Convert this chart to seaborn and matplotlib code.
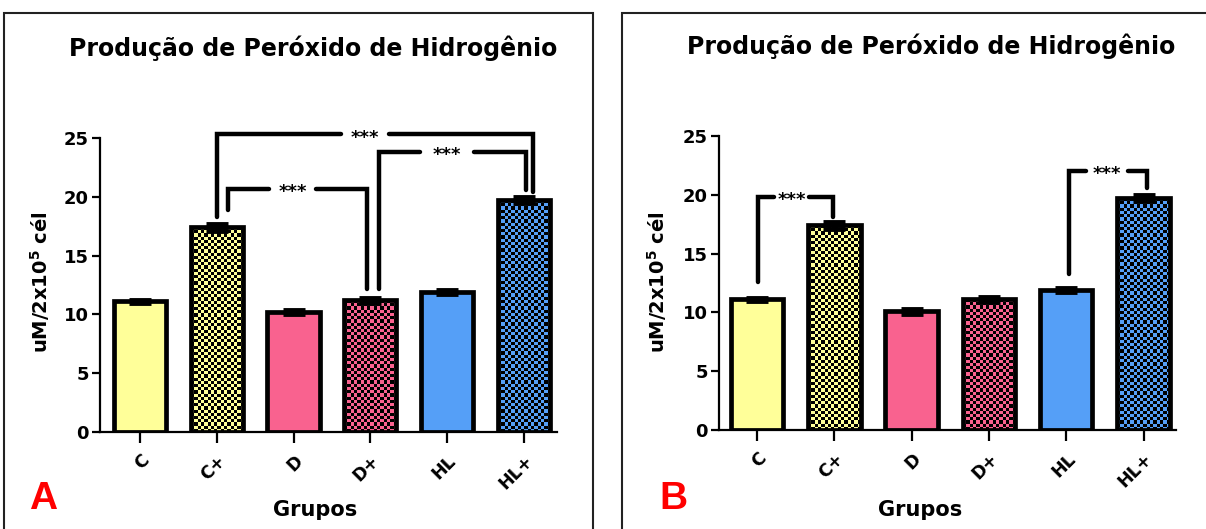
import numpy as np
import pandas as pd
import matplotlib
matplotlib.use("Agg")
import matplotlib.pyplot as plt
from matplotlib.patches import Rectangle
import seaborn as sns

# ---- data -------------------------------------------------------------
groups = ["C", "C+", "D", "D+", "HL", "HL+"]
h2o2_a = [11.1, 17.4, 10.2, 11.2, 11.9, 19.7]
sem_a = [0.15, 0.3, 0.2, 0.2, 0.2, 0.25]
h2o2_b = [11.1, 17.4, 10.1, 11.1, 11.9, 19.7]
sem_b = [0.15, 0.3, 0.2, 0.2, 0.2, 0.25]

bar_colors = ["#FFFF99", "#FFFF99", "#F9628F", "#F9628F", "#559FF7", "#559FF7"]
patterned = ["C+", "D+", "HL+"]

# significance brackets:
# (left x, right x, line y, left leg end, right leg end, label x, label gap width)
brackets_a = [
    (1.00, 5.12, 25.3, 18.3, 20.4, 2.93, 0.62),
    (1.15, 2.96, 20.7, 18.9, 12.2, 1.99, 0.61),
    (3.11, 5.03, 23.8, 12.2, 20.6, 4.00, 0.70),
]
brackets_b = [
    (0.01, 0.98, 19.8, 12.6, 18.1, 0.45, 0.46),
    (4.03, 5.05, 22.0, 13.3, 20.6, 4.53, 0.55),
]

sns.set_theme(style="white")
plt.rcParams["font.family"] = ["DejaVu Sans"]
plt.rcParams["font.weight"] = "bold"
plt.rcParams["text.color"] = "black"
plt.rcParams["axes.labelcolor"] = "black"
plt.rcParams["xtick.color"] = "black"
plt.rcParams["ytick.color"] = "black"
plt.rcParams["mathtext.fontset"] = "custom"
plt.rcParams["mathtext.bf"] = "DejaVu Sans:bold"
plt.rcParams["mathtext.rm"] = "DejaVu Sans:bold"

W, H = 1206, 529
fig = plt.figure(figsize=(W / 100, H / 100), dpi=100)


def fx(px):
    return px / W


def fy(py):
    return 1 - py / H


def checker_fill(ax, patch, color, cell_px=3.2):
    """Fill a bar with a fine black/colour checkerboard."""
    x0, y0 = patch.get_x(), patch.get_y()
    w, h = patch.get_width(), patch.get_height()
    (px0, py0), (px1, py1) = ax.transData.transform([(x0, y0), (x0 + w, y0 + h)])
    ncol = max(2, int(round(abs(px1 - px0) / cell_px)))
    nrow = max(2, int(round(abs(py1 - py0) / cell_px)))
    rgb = np.array(matplotlib.colors.to_rgb(color))
    ii, jj = np.indices((nrow, ncol))
    mask = ((ii + jj) % 2 == 0)[..., None]
    img = np.where(mask, rgb, np.zeros(3))
    ax.imshow(img, extent=[x0, x0 + w, y0, y0 + h], origin="lower",
              interpolation="nearest", aspect="auto",
              zorder=patch.get_zorder() - 0.05)
    patch.set_facecolor("none")


def draw_panel(ax, values, errs, brackets, xlim):
    df = pd.DataFrame({"grupo": groups, "valor": values})
    sns.barplot(data=df, x="grupo", y="valor", hue="grupo", palette=bar_colors,
                order=groups, hue_order=groups, dodge=False, legend=False,
                errorbar=None, width=0.68, edgecolor="black", linewidth=3.4,
                saturation=1, ax=ax, zorder=2)
    ax.set_xlim(*xlim)
    ax.set_ylim(0, 27)
    ax.errorbar(np.arange(len(groups)), values, yerr=errs, fmt="none",
                ecolor="black", elinewidth=3, capsize=8, capthick=3.5, zorder=3)

    for p in ax.patches:
        idx = int(round(p.get_x() + p.get_width() / 2))
        if groups[idx] in patterned:
            checker_fill(ax, p, bar_colors[idx])
    ax.set_xlim(*xlim)
    ax.set_ylim(0, 27)

    line_kw = dict(color="black", lw=3.2, solid_capstyle="round",
                   solid_joinstyle="miter", zorder=4)
    for (x1, x2, y, y1, y2, tx, gap) in brackets:
        ax.plot([x1, x1, tx - gap / 2], [y1, y, y], **line_kw)
        ax.plot([tx + gap / 2, x2, x2], [y, y, y2], **line_kw)
        # asterisks sit high above the baseline; shift them onto the line
        ax.annotate("***", xy=(tx, y), xytext=(0, -5.8),
                    textcoords="offset points", ha="center", va="baseline",
                    fontsize=13, fontweight="bold", zorder=5)

    sns.despine(ax=ax)
    ax.spines["left"].set_bounds(0, 25)
    for s in ("left", "bottom"):
        ax.spines[s].set_linewidth(1.6)
        ax.spines[s].set_color("black")
    ax.set_yticks([0, 5, 10, 15, 20, 25])
    ax.tick_params(axis="y", direction="out", length=6, width=1.6,
                   labelsize=13, left=True, pad=2)
    ax.tick_params(axis="x", direction="out", length=8, width=1.6,
                   labelsize=12.5, bottom=True, pad=6)
    ax.set_xticks(range(len(groups)))
    ax.set_xticklabels(groups, rotation=45, ha="right", va="top",
                       rotation_mode="anchor", fontweight="bold")
    for lab in ax.get_yticklabels():
        lab.set_fontweight("bold")
    ax.set_xlabel("")
    ax.set_ylabel("")
    ax.grid(False)


# panel frames
for (x0, x1) in [(4, 593), (622, 1212)]:
    fig.add_artist(Rectangle((fx(x0), -0.05), fx(x1 - x0), fy(13) + 0.05,
                             transform=fig.transFigure, fill=False,
                             edgecolor="#222222", linewidth=1.5))

ppu_y = 11.76
ax_a = fig.add_axes([fx(100), (H - 432) / H, fx(457), 27 * ppu_y / H])
draw_panel(ax_a, h2o2_a, sem_a, brackets_a, (-0.52, 5.43))

ax_b = fig.add_axes([fx(719), (H - 430) / H, fx(457), 27 * ppu_y / H])
draw_panel(ax_b, h2o2_b, sem_b, brackets_b, (-0.49, 5.42))

title = "Produção de Peróxido de Hidrogênio"
ylab = r"uM/2x10$^{\mathbf{5}}$ cél"
for ax, tx, ty, yx, lx, letter, lettx in [
    (ax_a, 313, 48, 40, 315, "A", 43),
    (ax_b, 931, 46, 657, 920, "B", 673),
]:
    fig.text(fx(tx), fy(ty), title, ha="center", va="center", fontsize=17,
             fontweight="bold")
    fig.text(fx(yx), fy(282), ylab, ha="center", va="center", rotation=90,
             fontsize=14, fontweight="bold")
    fig.text(fx(lx), fy(510), "Grupos", ha="center", va="center",
             fontsize=15, fontweight="bold")
    fig.text(fx(lettx), fy(499), letter, ha="center", va="center",
             fontsize=28, fontweight="bold", color="#FF0000",
             family="Liberation Sans")

fig.savefig("out.png", dpi=100)
